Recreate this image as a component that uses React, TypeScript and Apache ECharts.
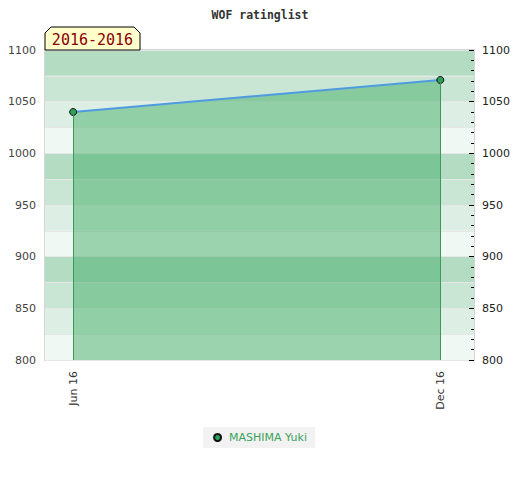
import React, { useEffect, useRef } from "react";
import * as echarts from "echarts";

const chartTitle = "WOF ratinglist";
const periodLabel = "2016-2016";
const seriesName = "MASHIMA Yuki";
// x positions: month index within 2016 (0 = Jan)
const monthIndex = [5, 11];
const tickLabels = ["Jun 16", "Dec 16"];
const ratings = [1040, 1071];
const yMin = 800;
const yMax = 1100;
const bandColors = ["#f0f8f3", "#ddefe4", "#c9e6d4", "#b3dcc3"];

export default function App() {
  const ref = useRef<HTMLDivElement>(null);
  useEffect(() => {
    document.body.style.margin = "0";
    const chart = echarts.init(ref.current!, null, { renderer: "svg" });
    const data = monthIndex.map((m, i) => [m, ratings[i]]);
    chart.setOption({
      animation: false,
      title: {
        text: chartTitle,
        left: "center",
        top: 4,
        textStyle: {
          fontFamily: "DejaVu Sans Mono",
          fontSize: 11.5,
          fontWeight: "bold",
          color: "#333",
        },
      },
      grid: {
        left: 45,
        right: 46,
        top: 50,
        bottom: 120,
        show: true,
        borderColor: "#d6d6d6",
        borderWidth: 2,
        backgroundColor: "transparent",
      },
      legend: {
        data: [seriesName],
        top: 427,
        left: "center",
        icon: "circle",
        itemWidth: 7,
        itemHeight: 7,
        backgroundColor: "#f2f2f2",
        padding: [5, 8, 5, 10],
        itemGap: 8,
        textStyle: {
          color: "#3aa35a",
          fontFamily: "DejaVu Sans",
          fontSize: 11,
          padding: [0, 0, 0, 3],
        },
      },
      xAxis: {
        type: "value",
        min: 4.54,
        max: 11.55,
        axisLine: { show: false },
        axisTick: { show: false },
        splitLine: { show: false },
        axisLabel: {
          customValues: monthIndex,
          rotate: 90,
          margin: 11,
          color: "#333",
          fontFamily: "DejaVu Sans",
          fontSize: 11,
          formatter: (v: number) => {
            const i = monthIndex.indexOf(Math.round(v));
            return i >= 0 ? tickLabels[i] : "";
          },
        },
      },
      yAxis: [
        {
          type: "value",
          min: yMin,
          max: yMax,
          interval: 25,
          position: "left",
          axisLine: { show: false },
          axisTick: { show: false },
          splitLine: { show: true, lineStyle: { color: "#e6e6e6", width: 1 } },
          splitArea: { show: true, areaStyle: { color: bandColors } },
          axisLabel: {
            margin: 9,
            color: "#444",
            fontFamily: "DejaVu Sans",
            fontSize: 11,
            formatter: (v: number) => (v % 50 === 0 ? String(v) : ""),
          },
        },
        {
          type: "value",
          min: yMin,
          max: yMax,
          interval: 50,
          position: "right",
          axisLine: { show: false },
          axisTick: { show: true, inside: true, length: 5, lineStyle: { color: "#000" } },
          minorTick: { show: true, splitNumber: 5, length: 3, lineStyle: { color: "#000" } },
          splitLine: { show: false },
          axisLabel: {
            margin: 8,
            color: "#222",
            fontFamily: "DejaVu Sans",
            fontSize: 11,
            formatter: (v: number) => String(v),
          },
        },
      ],
      graphic: [
        {
          type: "polygon",
          shape: {
            points: [
              [45, 50],
              [45, 33],
              [51, 27],
              [134, 27],
              [140, 33],
              [140, 50],
            ],
          },
          style: { fill: "#ffffcc", stroke: "#000", lineWidth: 1 },
          z: 100,
        },
        {
          type: "text",
          x: 92.5,
          y: 40,
          style: {
            text: periodLabel,
            fill: "#8b0000",
            font: "15px 'DejaVu Sans Mono'",
            align: "center",
            verticalAlign: "middle",
          },
          z: 101,
        },
      ],
      series: [
        {
          name: seriesName,
          type: "line",
          yAxisIndex: 0,
          data,
          symbol: "circle",
          symbolSize: 7,
          itemStyle: { color: "#2e9e5b", borderColor: "#111", borderWidth: 1 },
          lineStyle: { color: "#4f9be0", width: 2 },
          areaStyle: { color: "#3fab64", opacity: 0.48, origin: "start" },
          markLine: {
            silent: true,
            symbol: "none",
            label: { show: false },
            lineStyle: { color: "#3a9a5a", width: 1, type: "solid" },
            data: data.map((d) => [{ coord: d }, { coord: [d[0], yMin] }]),
          },
          z: 3,
        },
      ],
    });
    return () => chart.dispose();
  }, []);
  return <div ref={ref} style={{ width: 520, height: 480 }} />;
}
